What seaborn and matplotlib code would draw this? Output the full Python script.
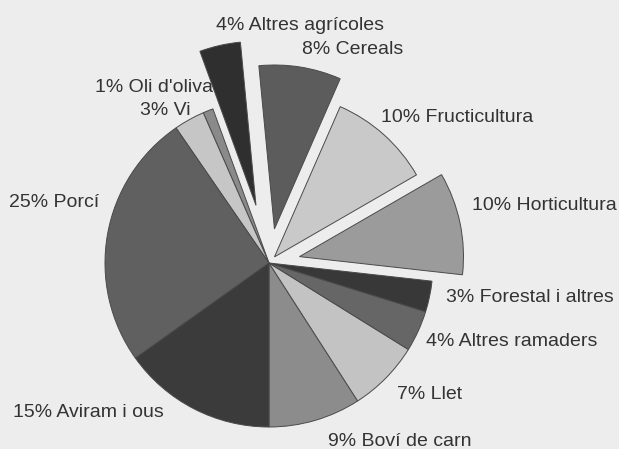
import numpy as np
import pandas as pd
import matplotlib
matplotlib.use('Agg')
import matplotlib.pyplot as plt
import seaborn as sns

# shares of the agricultural production, counter-clockwise from the bottom
sectors = ['Boví de carn', 'Llet', 'Altres ramaders', 'Forestal i altres',
           'Horticultura', 'Fructicultura', 'Cereals', 'Altres agrícoles',
           "Oli d'oliva", 'Vi', 'Porcí', 'Aviram i ous']
shares = [9, 7, 4, 3, 10, 10, 8, 4, 1, 3, 25, 15]
greys = ['#8c8c8c', '#c3c3c3', '#666666', '#383838', '#9b9b9b', '#c9c9c9',
         '#5c5c5c', '#2f2f2f', '#8a8a8a', '#c6c6c6', '#606060', '#3b3b3b']
explode = [0, 0, 0, 0, 0.19, 0.05, 0.21, 0.36, 0, 0, 0, 0]

# label centres, in pie radii from the centre
label_x = [0.80, 0.98, 1.48, 1.59, 1.68, 1.15, 0.51, 0.19, -0.70, -0.63, -1.31, -1.10]
label_y = [-1.09, -0.80, -0.48, -0.21, 0.35, 0.89, 1.30, 1.45, 1.07, 0.93, 0.37, -0.91]

df = pd.DataFrame({'sector': sectors, 'share': shares})

sns.set_theme(style='white')
plt.rcParams['font.family'] = ['Liberation Sans', 'DejaVu Sans']

fig = plt.figure(figsize=(6.19, 4.49), dpi=100)
fig.patch.set_facecolor('#ededed')
ax = fig.add_axes([0, 0, 1, 1])
ax.set_facecolor('#ededed')

ax.pie(df['share'], colors=greys, explode=explode, startangle=-90,
       counterclock=True,
       wedgeprops=dict(edgecolor='#4a4a4a', linewidth=0.7))

for name, val, x, y in zip(df['sector'], df['share'], label_x, label_y):
    ax.text(x, y, f'{val}% {name}', ha='center', va='center',
            fontsize=14, color='#333333')

# pie radius = 164 px, centre at (269, 263) px from the top-left
r = 164
ax.set_xlim(-269 / r, (619 - 269) / r)
ax.set_ylim(-(449 - 263) / r, 263 / r)
ax.set_aspect('auto')
ax.axis('off')

fig.savefig('out.png', dpi=100, facecolor=fig.get_facecolor())
